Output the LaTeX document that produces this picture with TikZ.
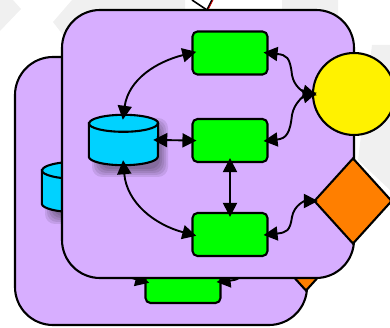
\documentclass[tikz,border=0pt]{standalone}
\usetikzlibrary{arrows.meta,shapes.geometric,positioning}
\definecolor{panelfill}{HTML}{D7AEFF}
\definecolor{unitfill}{HTML}{00FF00}
\definecolor{storefill}{HTML}{00D2FF}
\definecolor{gatefill}{HTML}{FF7F00}
\definecolor{ghostfill}{HTML}{F0F0F0}
\begin{document}
\begin{tikzpicture}[
  x=1pt, y=-1pt,
  panel/.style={draw, line width=2.1pt, fill=panelfill, rectangle, rounded corners=38pt, minimum width=292pt, minimum height=268pt},
  unit/.style={draw, line width=2.1pt, fill=unitfill, rectangle, rounded corners=5pt, minimum width=75pt, minimum height=43pt},
  store/.style={rectangle, minimum width=69pt, minimum height=50pt, inner sep=0pt},
  storeline/.style={draw, line width=2.1pt, fill=storefill},
  hub/.style={draw, line width=2.1pt, fill=yellow, circle, minimum size=82pt, inner sep=0pt},
  gate/.style={draw, line width=2.1pt, fill=gatefill, diamond, minimum width=78pt, minimum height=86pt, inner sep=0pt},
  link/.style={line width=1.9pt, shorten >=-5pt, shorten <=-5pt, {Triangle[length=14pt,width=14pt]}-{Triangle[length=14pt,width=14pt]}},
  rim/.style={start angle=180, end angle=360, x radius=34.5pt, y radius=8.5pt},
  layer/.pic={
    \node[panel] (box) at (146,134) {};
    \node[unit] (top) at (168,43) {};
    \node[unit] (mid) at (168,130.5) {};
    \node[unit] (bot) at (168,224.5) {};
    \foreach \g in {-4,-2,0,2,4}
      \fill[black, opacity=0.09, rounded corners=10pt] (34-\g,112-\g) rectangle (102+\g,163+\g);
    \node[store] (db) at (61.5,130) {};
    \path[storeline] ([yshift=-8.5pt]db.north west) -- ([yshift=8.5pt]db.south west) arc[rim] -- ([yshift=-8.5pt]db.north east) arc[start angle=0, end angle=180, x radius=34.5pt, y radius=8.5pt] -- cycle;
    \draw[line width=2.1pt] ([yshift=-8.5pt]db.north west) arc[rim];
    \node[hub] (hub) at (292,84) {};
    \node[gate] (gate) at (291,191) {};
    \draw[link] (db.north) to[out=82, in=194] (top.west);
    \draw[link] (db.east) -- (mid.west);
    \draw[link] (db.south) to[out=-85, in=165] (bot.west);
    \draw[link] (mid.south) -- (bot.north);
    \draw[link] (top.east) .. controls +(18,2) and +(-2,-18) .. (230,65) .. controls +(2,12) and +(-8,-2) .. (hub.west);
    \draw[link] (mid.east) .. controls +(18,-2) and +(-2,18) .. (230,105) .. controls +(2,-12) and +(-8,2) .. (hub.west);
    \draw[link] (bot.east) .. controls +(18,-2) and +(-2,14) .. (230,207) .. controls +(2,-12) and +(-8,0) .. (gate.west);
  }
]
\useasboundingbox (0,0) rectangle (390,328);

% faint sheets behind
\fill[ghostfill] (0,0) -- (13,0) -- (21,9) -- (0,31) -- cycle;
\fill[ghostfill] (72,0) -- (53,22) -- (63,35) -- (100,12) -- (185,12) -- (185,0) -- cycle;
\fill[ghostfill] (282,0) -- (338,0) -- (338,20) -- (282,12) -- cycle;
\fill[ghostfill] (372,45) -- (390,45) -- (390,190) -- (358,160) -- cycle;

% line from outside
\coordinate (inleft) at (192,0);
\coordinate (inright) at (212,0);
\coordinate (inend) at (207,10);
\draw[line width=1.6pt] (inleft) -- (inend);
\draw[line width=1.6pt] (inright) -- (inend);
\draw[line width=0.7pt, red!80!black] (inright) ++(1,0) -- ([xshift=1pt]inend);

% Back layer
\pic[xshift=15pt, yshift=-57pt] (back) {layer};

% Front layer
\pic[xshift=62pt, yshift=-10pt] (front) {layer};

\end{tikzpicture}
\end{document}
